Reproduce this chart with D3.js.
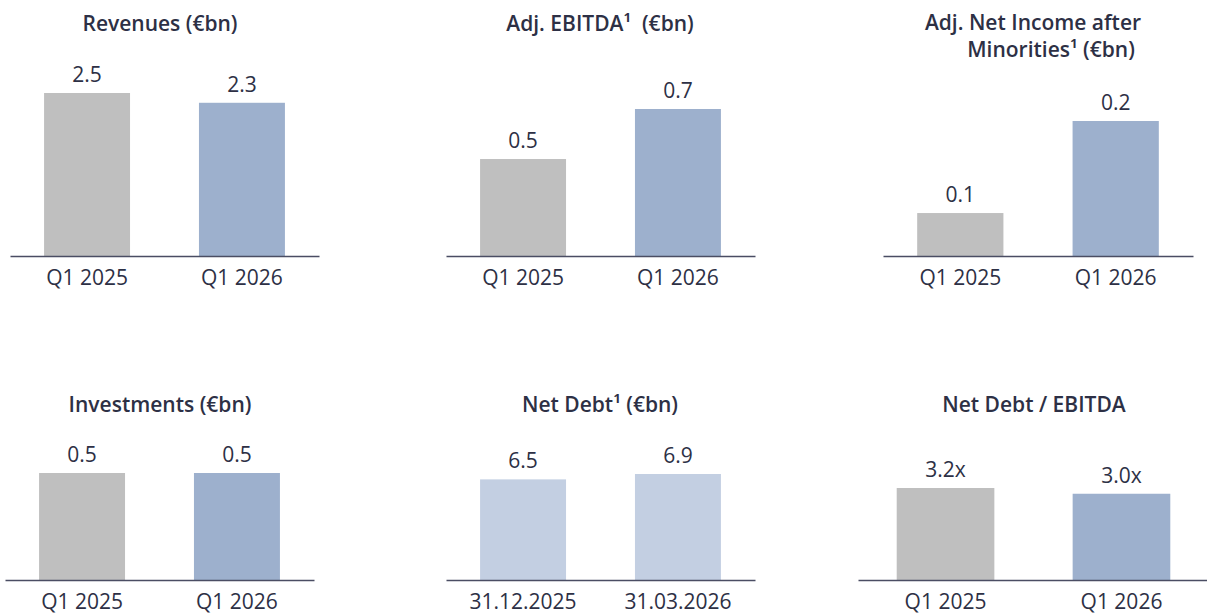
<!DOCTYPE html>
<html>
<head>
<meta charset="utf-8">
<script src="https://cdn.jsdelivr.net/npm/d3@7"></script>
<style>
  html, body { margin: 0; padding: 0; background: #ffffff; }
  svg { display: block; font-family: "Open Sans", "Noto Sans", sans-serif; }
</style>
</head>
<body>
<svg id="chart" width="1207" height="615"></svg>
<script>
// ---------- data ----------
const quarters = ["Q1 2025", "Q1 2026"];
const dates = ["31.12.2025", "31.03.2026"];

const revenues = [2.5, 2.35];
const revenuesLabels = ["2.5", "2.3"];

const ebitda = [0.475, 0.72];
const ebitdaLabels = ["0.5", "0.7"];

const netIncome = [0.07, 0.22];
const netIncomeLabels = ["0.1", "0.2"];

const investments = [0.5, 0.5];
const investmentsLabels = ["0.5", "0.5"];

const netDebt = [6.55, 6.9];
const netDebtLabels = ["6.5", "6.9"];

const leverage = [3.2, 3.0];
const leverageLabels = ["3.2x", "3.0x"];

const titles = [
  ["Revenues (€bn)"],
  ["Adj. EBITDA¹  (€bn)"],
  ["Adj. Net Income after", "Minorities¹ (€bn)"],
  ["Investments (€bn)"],
  ["Net Debt¹ (€bn)"],
  ["Net Debt / EBITDA"]
];

// ---------- styling / layout ----------
const GREY = "#bfbfbf", BLUE = "#9db0cd", LIGHT = "#c3cfe2";
const TEXT = "#2d3045";

const panels = [
  { cats: quarters, vals: revenues, labels: revenuesLabels, title: titles[0],
    x0: 10, x1: 319, base: 256, h: 163, colors: [GREY, BLUE], tx: [160], ty: [31] },
  { cats: quarters, vals: ebitda, labels: ebitdaLabels, title: titles[1],
    x0: 446, x1: 755, base: 256, h: 147, colors: [GREY, BLUE], tx: [600], ty: [31] },
  { cats: quarters, vals: netIncome, labels: netIncomeLabels, title: titles[2],
    x0: 883, x1: 1193, base: 256, h: 135, colors: [GREY, BLUE], tx: [1033, 1051], ty: [30, 57] },
  { cats: quarters, vals: investments, labels: investmentsLabels, title: titles[3],
    x0: 5, x1: 314, base: 580, h: 107, colors: [GREY, BLUE], tx: [160], ty: [412] },
  { cats: dates, vals: netDebt, labels: netDebtLabels, title: titles[4],
    x0: 446, x1: 755, base: 580, h: 106, colors: [LIGHT, LIGHT], tx: [600], ty: [412] },
  { cats: quarters, vals: leverage, labels: leverageLabels, title: titles[5],
    x0: 858, x1: 1209, base: 580, h: 92, colors: [GREY, BLUE], tx: [1034], ty: [412] }
];

const svg = d3.select("#chart");

panels.forEach(p => {
  const g = svg.append("g");
  const x = d3.scaleBand().domain(p.cats).range([p.x0, p.x1])
    .paddingInner(0.445).paddingOuter(0.22);
  const y = d3.scaleLinear().domain([0, d3.max(p.vals)]).range([p.base, p.base - p.h]);

  // bars
  g.selectAll("rect.bar").data(p.vals).join("rect")
    .attr("class", "bar")
    .attr("x", (d, i) => x(p.cats[i]))
    .attr("width", x.bandwidth())
    .attr("y", d => y(d))
    .attr("height", d => p.base - y(d))
    .attr("fill", (d, i) => p.colors[i]);

  // value labels
  g.selectAll("text.val").data(p.vals).join("text")
    .attr("class", "val")
    .attr("x", (d, i) => x(p.cats[i]) + x.bandwidth() / 2)
    .attr("y", d => y(d) - 11)
    .attr("text-anchor", "middle")
    .attr("font-size", 21)
    .attr("fill", TEXT)
    .text((d, i) => p.labels[i]);

  // axis
  const ax = g.append("g")
    .attr("transform", `translate(0,${p.base})`)
    .call(d3.axisBottom(x).tickSize(0).tickPadding(14));
  ax.select(".domain").attr("stroke", "#4a4d63").attr("stroke-width", 1.5);
  ax.selectAll(".tick text")
    .attr("font-size", 21)
    .attr("font-family", "'Open Sans', sans-serif")
    .attr("fill", TEXT);

  // title (one text element, one tspan per line)
  const title = g.append("text")
    .attr("text-anchor", "middle")
    .attr("font-size", 21)
    .attr("font-weight", 600)
    .attr("fill", TEXT)
    .attr("xml:space", "preserve")
    .style("white-space", "pre");
  p.title.forEach((t, i) => {
    title.append("tspan")
      .attr("x", p.tx[i])
      .attr("y", p.ty[i])
      .text(t);
  });
});
</script>
</body>
</html>
